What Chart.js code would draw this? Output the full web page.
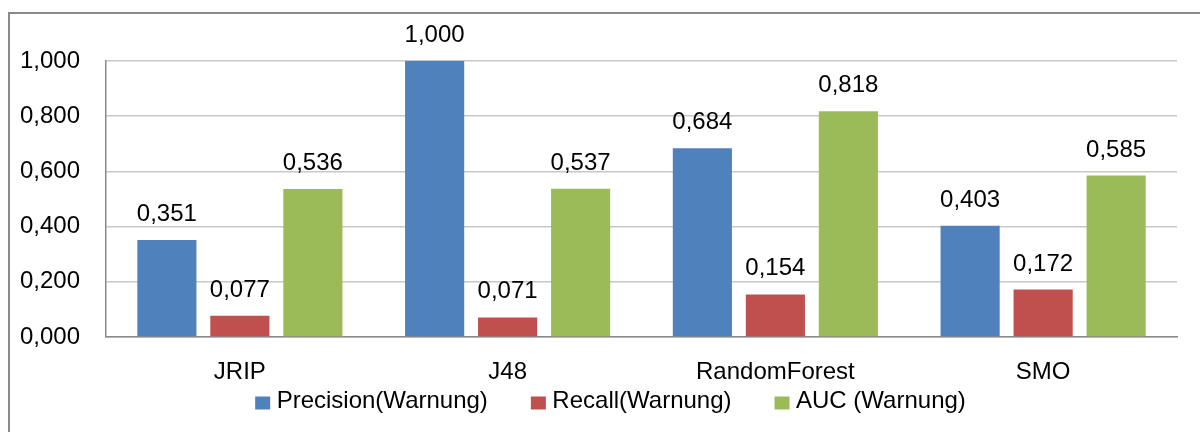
<!DOCTYPE html>
<html>
<head>
<meta charset="utf-8">
<script src="https://cdn.jsdelivr.net/npm/chart.js@4.4.1/dist/chart.umd.min.js"></script>
<style>
  html, body { margin: 0; padding: 0; background: #fff; overflow: hidden; }
  #wrap { position: relative; width: 1200px; height: 432px; }
  #frame { position: absolute; left: 8px; top: 12px; width: 1400px; height: 600px;
           border-top: 2px solid #8a8a8a; border-left: 2px solid #8a8a8a; box-sizing: border-box; }
  canvas { position: absolute; left: 0; top: 0; }
</style>
</head>
<body>
<div id="wrap">
  <div id="frame"></div>
  <canvas id="c" width="1200" height="432"></canvas>
</div>
<script>
const categories = ["JRIP", "J48", "RandomForest", "SMO"];
const precision = [0.351, 1.000, 0.684, 0.403];
const recall = [0.077, 0.071, 0.154, 0.172];
const auc = [0.536, 0.537, 0.818, 0.585];
const seriesNames = ["Precision(Warnung)", "Recall(Warnung)", "AUC (Warnung)"];
const seriesColors = ["#4F81BD", "#C0504D", "#9BBB59"];
const yTicks = [0, 0.2, 0.4, 0.6, 0.8, 1.0];

const FONT = '"Liberation Sans", Arial, sans-serif';
const FS = 24;
const fmt = v => v.toFixed(3).replace('.', ',');

const valueLabels = {
  id: 'valueLabels',
  afterDatasetsDraw(chart) {
    const ctx = chart.ctx;
    ctx.save();
    ctx.font = FS + 'px ' + FONT;
    ctx.fillStyle = '#000';
    ctx.textAlign = 'center';
    ctx.textBaseline = 'alphabetic';
    chart.data.datasets.forEach((ds, i) => {
      chart.getDatasetMeta(i).data.forEach((bar, j) => {
        ctx.fillText(fmt(ds.data[j]), bar.x, bar.y - 19);
      });
    });
    ctx.restore();
  }
};

const customLegend = {
  id: 'customLegend',
  afterDraw(chart) {
    const ctx = chart.ctx;
    ctx.save();
    ctx.font = FS + 'px ' + FONT;
    ctx.textBaseline = 'alphabetic';
    ctx.textAlign = 'left';
    const boxW = 15, boxH = 13, gapText = 6.5, gapItem = 43;
    const items = chart.data.datasets.map(ds => ({ label: ds.label, color: ds.backgroundColor, w: ctx.measureText(ds.label).width }));
    const total = items.reduce((s, it) => s + boxW + gapText + it.w, 0) + gapItem * (items.length - 1);
    let x = 610.5 - total / 2;
    const baseline = 408;
    items.forEach(it => {
      ctx.fillStyle = it.color;
      ctx.fillRect(x, 396.5, boxW, boxH);
      ctx.fillStyle = '#000';
      ctx.fillText(it.label, x + boxW + gapText, baseline);
      x += boxW + gapText + it.w + gapItem;
    });
    ctx.restore();
  }
};

new Chart(document.getElementById('c'), {
  type: 'bar',
  data: {
    labels: categories,
    datasets: [
      { label: seriesNames[0], data: precision, backgroundColor: seriesColors[0] },
      { label: seriesNames[1], data: recall, backgroundColor: seriesColors[1] },
      { label: seriesNames[2], data: auc, backgroundColor: seriesColors[2] }
    ]
  },
  options: {
    responsive: false,
    animation: false,
    events: [],
    layout: { padding: { top: 61, right: 23, bottom: 25, left: 0 } },
    datasets: { bar: { categoryPercentage: 0.818, barPercentage: 0.81 } },
    plugins: { legend: { display: false }, tooltip: { enabled: false } },
    scales: {
      x: {
        grid: { display: false },
        border: { display: true, color: '#8a8a8a', width: 1.5 },
        ticks: { color: '#000', font: { family: FONT, size: FS }, padding: 13 },
        afterFit(scale) { scale.height = 70; }
      },
      y: {
        min: 0, max: 1,
        afterBuildTicks(scale) { scale.ticks = yTicks.map(v => ({ value: v })); },
        grid: { color: '#c8c8c8', lineWidth: 1.5, drawTicks: false },
        border: { display: true, color: '#8a8a8a', width: 1.5 },
        ticks: { color: '#000', font: { family: FONT, size: FS }, padding: 26, callback: v => fmt(v) },
        afterFit(scale) { scale.width = 106; }
      }
    }
  },
  plugins: [valueLabels, customLegend]
});
</script>
</body>
</html>
